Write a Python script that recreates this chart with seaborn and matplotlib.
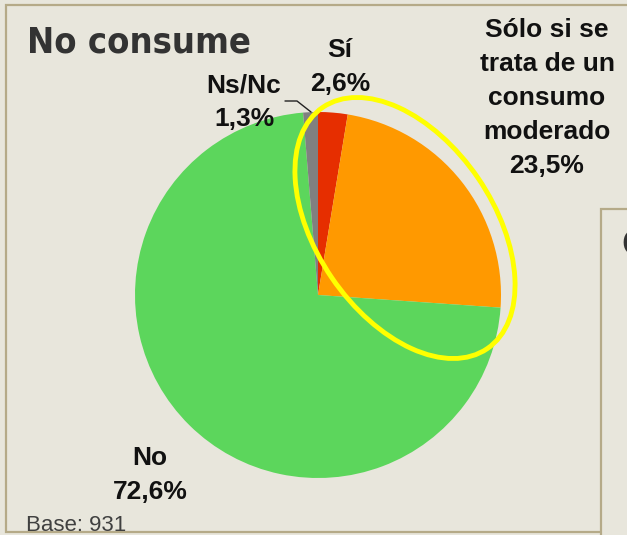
import matplotlib
matplotlib.use("Agg")
import matplotlib.pyplot as plt
from matplotlib.patches import Ellipse, Rectangle
import seaborn as sns

# data (clockwise from 12 o'clock)
labels = ["Sí", "Sólo si se\ntrata de un\nconsumo\nmoderado", "No", "Ns/Nc"]
values = [2.6, 23.5, 72.6, 1.3]
colors = ["#E62E00", "#FF9900", "#5CD65C", "#808080"]
title = "No consume"
next_title = "Consume"
base_note = "Base: 931"

BG = "#E8E6DC"
BORDER = "#B5AA88"
W, H = 627, 535

sns.set_theme(style="white")
plt.rcParams["font.family"] = ["Liberation Sans", "DejaVu Sans"]

fig = plt.figure(figsize=(W / 100, H / 100), dpi=100, facecolor=BG)


def fx(px):
    return px / W


def fy(py):
    return 1 - py / H


# panels
fig.add_artist(Rectangle((fx(6), fy(532)), fx(700), 527 / H, transform=fig.transFigure,
                         facecolor=BG, edgecolor=BORDER, lw=1.6, zorder=-5))
fig.add_artist(Rectangle((fx(601), fy(560)), fx(100), 351 / H, transform=fig.transFigure,
                         facecolor=BG, edgecolor=BORDER, lw=1.6, zorder=-4))

# pie: centre (318, 295) px, radius 183 px
cx, cy, r = 318, 295, 183
ax = fig.add_axes([fx(cx - r), fy(cy + r), 2 * r / W, 2 * r / H])
ax.pie(values, colors=colors, startangle=90, counterclock=False,
       wedgeprops=dict(linewidth=0))
ax.set_xlim(-1, 1)
ax.set_ylim(-1, 1)
ax.set_aspect("equal")
ax.axis("off")


def d(px, py):
    return (px - cx) / r, (cy - py) / r


# yellow highlight ellipse
ex, ey = d(405, 228)
ax.add_patch(Ellipse((ex, ey), 292 / r, 177 / r, angle=-55.7, fill=False,
                     edgecolor="#FFFF00", lw=3.5, clip_on=False, zorder=5))

# leader for Ns/Nc
lx, ly = zip(d(285, 101), d(297, 101), d(311, 112))
ax.plot(lx, ly, color="#222222", lw=1, clip_on=False)

lab_style = dict(fontsize=19, fontweight="bold", color="#111111",
                 ha="center", va="center", linespacing=1.52)
pct = [f"{v:.1f}%".replace(".", ",") for v in values]
fig.text(fx(340), fy(67), f"{labels[0]}\n{pct[0]}", **lab_style)
fig.text(fx(547), fy(98), f"{labels[1]}\n{pct[1]}", **lab_style)
fig.text(fx(150), fy(475), f"{labels[2]}\n{pct[2]}", **lab_style)
fig.text(fx(244), fy(102), f"{labels[3]}\n{pct[3]}", **lab_style)

title_style = dict(fontsize=26, fontweight="heavy", fontstretch="condensed",
                   color="#333333", family=["DejaVu Sans"], va="baseline")
fig.text(fx(27), fy(52), title, **title_style)
fig.text(fx(621), fy(255), next_title, **title_style)

fig.text(fx(26), fy(531), base_note, fontsize=16, color="#404040", va="baseline")

fig.savefig("out.png", dpi=100, facecolor=BG)
